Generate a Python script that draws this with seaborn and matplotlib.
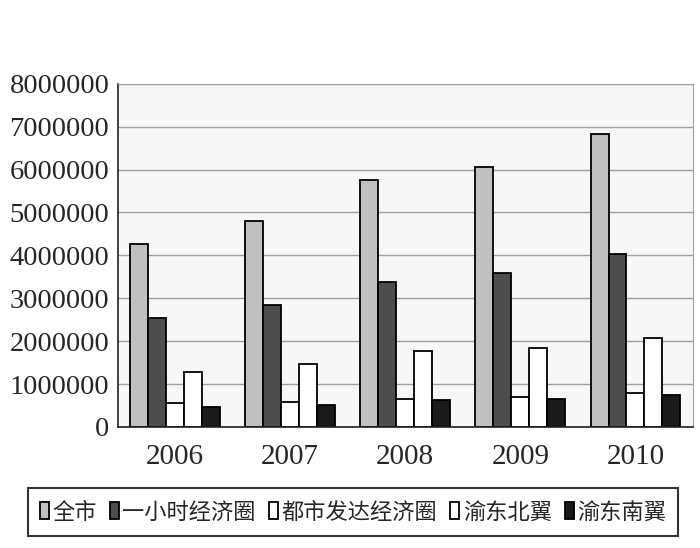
import pandas as pd
import matplotlib.pyplot as plt
import seaborn as sns

years = ['2006', '2007', '2008', '2009', '2010']
series = ['全市', '一小时经济圈', '都市发达经济圈', '渝东北翼', '渝东南翼']
quanshi = [4270000, 4800000, 5760000, 6060000, 6830000]
yixiaoshi = [2540000, 2840000, 3380000, 3590000, 4030000]
dushi = [560000, 580000, 650000, 700000, 790000]
yudongbei = [1280000, 1470000, 1770000, 1840000, 2070000]
yudongnan = [470000, 510000, 630000, 650000, 750000]

rows = []
for name, vals in zip(series, [quanshi, yixiaoshi, dushi, yudongbei, yudongnan]):
    for y, v in zip(years, vals):
        rows.append({'year': y, 'series': name, 'value': v})
df = pd.DataFrame(rows)

sns.set_style("white")
plt.rcParams['font.family'] = ['Liberation Serif', 'Noto Sans CJK SC', 'DejaVu Sans']

palette = {'全市': '#c0c0c0', '一小时经济圈': '#4d4d4d', '都市发达经济圈': '#ffffff',
           '渝东北翼': '#ffffff', '渝东南翼': '#1a1a1a'}

fig, ax = plt.subplots(figsize=(7, 5.48), dpi=100)
fig.subplots_adjust(left=0.168, right=0.99, top=0.847, bottom=0.221)
ax.set_facecolor('#f7f7f7')

sns.barplot(ax=ax, data=df, x='year', y='value', hue='series', palette=palette,
            width=0.78, edgecolor='black', linewidth=1.3, saturation=1, legend=True)

ax.set_ylim(0, 8000000)
ax.set_xlim(-0.5, 4.5)
ax.set_yticks(range(0, 8000001, 1000000))
ax.set_yticklabels([str(v) for v in range(0, 8000001, 1000000)])
ax.yaxis.grid(True, color='#a0a0a0', linewidth=1)
ax.set_axisbelow(True)
ax.tick_params(axis='y', length=0, labelsize=20.5, pad=6)
ax.tick_params(axis='x', which='major', length=0, labelsize=21, pad=12)
ax.set_xticks([0.5, 1.5, 2.5, 3.5], minor=True)
ax.tick_params(axis='x', which='minor', direction='in', length=7, color='#a0a0a0', width=1)
ax.set_xlabel('')
ax.set_ylabel('')

for side in ['top', 'right']:
    ax.spines[side].set_color('#a0a0a0')
for side in ['left', 'bottom']:
    ax.spines[side].set_color('#222222')
    ax.spines[side].set_linewidth(1.2)

handles, labels = ax.get_legend_handles_labels()
ax.legend(handles, labels, loc='center', bbox_to_anchor=(0.024, 0.0146, 0.961, 0.102),
          bbox_transform=fig.transFigure, mode='expand', ncol=5, frameon=True,
          fancybox=False, edgecolor='black', handlelength=0.4, handleheight=0.8,
          handletextpad=0.15, columnspacing=0.4, borderpad=0.55,
          prop={'family': ['Noto Sans CJK SC'], 'size': 16})
leg = ax.get_legend()
leg.get_frame().set_linewidth(1.5)

fig.savefig('out.png', dpi=100)
